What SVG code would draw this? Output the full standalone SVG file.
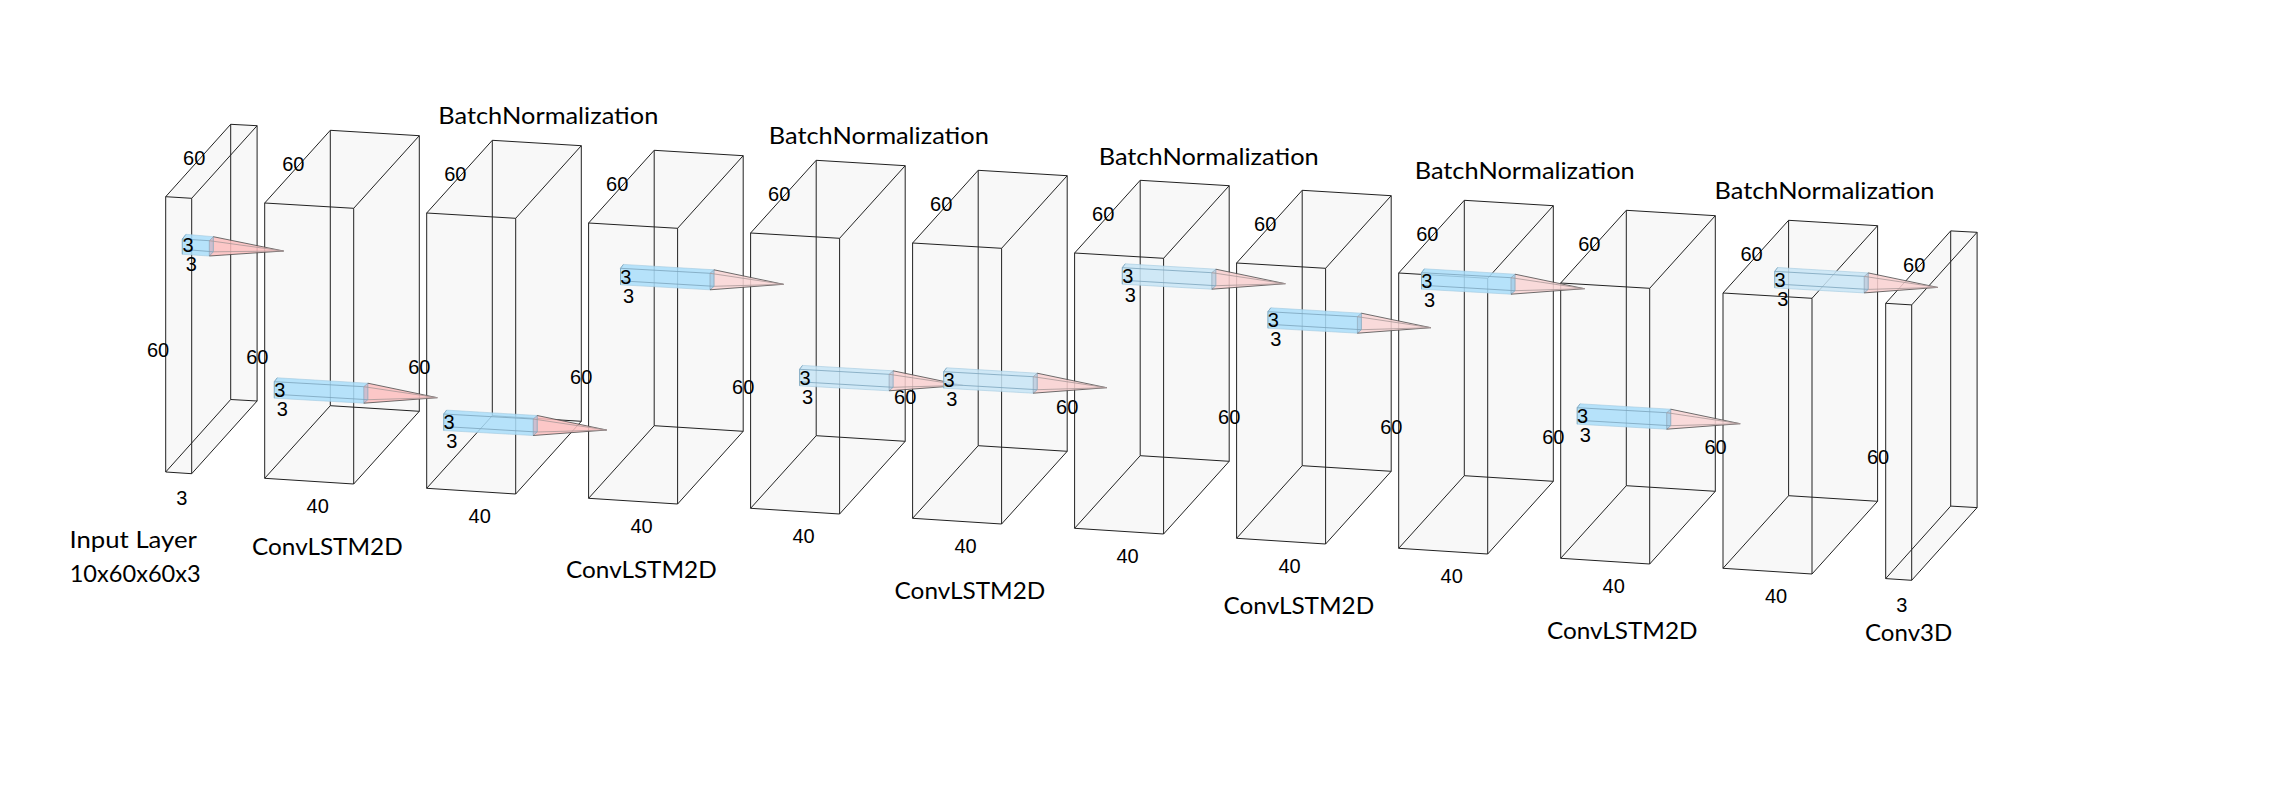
<svg xmlns="http://www.w3.org/2000/svg" xmlns:xlink="http://www.w3.org/1999/xlink" width="2270" height="796" viewBox="0 0 2270 796">
<style>
text{fill:#000}
.d{font-family:"Liberation Sans",Arial,sans-serif;font-size:20px;text-anchor:middle}
.t{font-family:Lato,"Open Sans",sans-serif;font-size:24px}
.fill{fill:#f8f8f8;stroke:none}
.edge{fill:none;stroke:#222;stroke-width:1}
.kb{fill:var(--b);fill-opacity:.85;stroke:#a3c9df;stroke-width:.6}
.kp{fill:var(--p);fill-opacity:.85;stroke:none}
.ks{fill:var(--s);fill-opacity:.85;stroke:#8a9dae;stroke-width:.6}
.kl{fill:none;stroke:#7ba3bb;stroke-width:.8}
.kd{fill:none;stroke:#4a4a4a;stroke-width:.8}
.kg{fill:none;stroke:#a89898;stroke-width:.8}
.bright{--b:#aadefa;--p:#fdbebe;--s:#d0b8c8}
.mid{--b:#aadefa;--p:#f9d5d5;--s:#a8cfe8}
.pale{--b:#c8e5f6;--p:#f9d0d0;--s:#c0cede}
</style>
<defs>
<g id="bigbox">
<polygon class="fill" points="0,0 65.6,-72.7 154.6,-67.3 154.6,208.3 89,281 0,275.3"/>
<path class="edge" d="M0,0L89,5.3L154.6,-67.3L65.6,-72.7ZM0,0V275.3L89,281V5.3M89,281L154.6,208.3V-67.3M0,275.3L65.6,202.7L154.6,208.3M65.6,-72.7V202.7"/>
</g>
<g id="thinbox">
<polygon class="fill" points="0,0 65,-72.4 91.4,-71 91.4,204.3 26,277 0,275.3"/>
<path class="edge" d="M0,0L26,1.6L91.4,-71L65,-72.4ZM0,0V275.3L26,277V1.6M26,277L91.4,204.3V-71M0,275.3L65,202.8L91.4,204.3M65,-72.4V202.8"/>
</g>
<g id="kernel">
<polygon class="kp" points="93.5,1.5 163,16 89.5,21.5 89.5,5"/>
<polygon class="kb" points="0,0 2.9,-3.9 93.5,1.5 93.5,18 89.5,21.5 0,16.5"/>
<polygon class="ks" points="89.5,5 93.5,1.5 93.5,18 89.5,21.5"/>
<path class="kl" d="M0,0L89.5,5M2.9,12.7L93.5,18M0,0V16.5M2.9,-3.9L0,0"/>
<path class="kd" d="M93.5,1.5L163,16M89.5,21.5L163,16"/>
<path class="kg" d="M89.5,5L163,16M93.5,18L163,16"/>
<text class="d" x="5.4" y="15.3">3</text>
<text class="d" x="8" y="34.3">3</text>
</g>
<g id="kernel0">
<polygon class="kp" points="31,-2.3 101.3,12 27,17 27,1.7"/>
<polygon class="kb" points="0,0 3.7,-4.7 31,-2.3 31,12.8 27,17 0,15.3"/>
<polygon class="ks" points="27,1.7 31,-2.3 31,12.8 27,17"/>
<path class="kl" d="M0,0L27,1.7M3.7,10.6L31,12.8M0,0V15.3M3.7,-4.7L0,0"/>
<path class="kd" d="M31,-2.3L101.3,12M27,17L101.3,12"/>
<path class="kg" d="M27,1.7L101.3,12M31,12.8L101.3,12"/>
<text class="d" x="5.7" y="13">3</text>
<text class="d" x="9" y="32.3">3</text>
</g>
<g id="biglabels">
<text class="d" x="-7.4" y="160.7">60</text>
<text class="d" x="28.6" y="-31.7">60</text>
<text class="d" x="53" y="310.3">40</text>
</g>
<g id="thinlabels">
<text class="d" x="-7.6" y="160.7">60</text>
<text class="d" x="28.5" y="-31.7">60</text>
<text class="d" x="16" y="308.3">3</text>
</g>
</defs>
<rect width="2270" height="796" fill="#fff"/>
<g id="input-layer" transform="translate(165.7,196.7)"><use href="#thinbox"/><use href="#thinlabels"/></g>
<g id="convlstm-1" transform="translate(264.7,203)"><use href="#bigbox"/><use href="#biglabels"/></g>
<g id="batchnorm-1" transform="translate(426.7,213)"><use href="#bigbox"/><use href="#biglabels"/></g>
<g id="convlstm-2" transform="translate(588.6,223)"><use href="#bigbox"/><use href="#biglabels"/></g>
<g id="batchnorm-2" transform="translate(750.6,233)"><use href="#bigbox"/><use href="#biglabels"/></g>
<g id="convlstm-3" transform="translate(912.6,243)"><use href="#bigbox"/><use href="#biglabels"/></g>
<g id="batchnorm-3" transform="translate(1074.6,253)"><use href="#bigbox"/><use href="#biglabels"/></g>
<g id="convlstm-4" transform="translate(1236.6,263)"><use href="#bigbox"/><use href="#biglabels"/></g>
<g id="batchnorm-4" transform="translate(1398.7,273)"><use href="#bigbox"/><use href="#biglabels"/></g>
<g id="convlstm-5" transform="translate(1560.7,283)"><use href="#bigbox"/><use href="#biglabels"/></g>
<g id="batchnorm-5" transform="translate(1723,293)"><use href="#bigbox"/><use href="#biglabels"/></g>
<g id="conv3d" transform="translate(1885.7,303.3)"><use href="#thinbox"/><use href="#thinlabels"/></g>
<g id="connectors">
<use href="#kernel0" class="bright" transform="translate(182.3,239)"/>
<use href="#kernel" class="bright" transform="translate(274.3,381.7)"/>
<use href="#kernel" class="bright" transform="translate(443.7,414)"/>
<use href="#kernel" class="mid" transform="translate(620.5,268.3)"/>
<use href="#kernel" class="pale" transform="translate(799.6,369.3)"/>
<use href="#kernel" class="pale" transform="translate(943.7,371.7)"/>
<use href="#kernel" class="pale" transform="translate(1122.3,267.7)"/>
<use href="#kernel" class="mid" transform="translate(1267.9,311.7)"/>
<use href="#kernel" class="mid" transform="translate(1421.5,272.7)"/>
<use href="#kernel" class="mid" transform="translate(1577.2,407.7)"/>
<use href="#kernel" class="pale" transform="translate(1774.7,271.4)"/>
</g>
<g id="labels">
<text class="t" x="69.5" y="548" textLength="127.4" lengthAdjust="spacingAndGlyphs">Input Layer</text>
<text class="t" x="69.7" y="582.3" textLength="131" lengthAdjust="spacingAndGlyphs">10x60x60x3</text>
<text class="t" x="252" y="555" textLength="150.7" lengthAdjust="spacingAndGlyphs">ConvLSTM2D</text>
<text class="t" x="566" y="577.7" textLength="150.7" lengthAdjust="spacingAndGlyphs">ConvLSTM2D</text>
<text class="t" x="894.6" y="599" textLength="150.7" lengthAdjust="spacingAndGlyphs">ConvLSTM2D</text>
<text class="t" x="1223.5" y="614" textLength="150.7" lengthAdjust="spacingAndGlyphs">ConvLSTM2D</text>
<text class="t" x="1546.9" y="639" textLength="150.7" lengthAdjust="spacingAndGlyphs">ConvLSTM2D</text>
<text class="t" x="1865" y="640.7" textLength="87.3" lengthAdjust="spacingAndGlyphs">Conv3D</text>
<text class="t" x="438.3" y="124.3" textLength="220" lengthAdjust="spacingAndGlyphs">BatchNormalization</text>
<text class="t" x="768.8" y="144.3" textLength="220" lengthAdjust="spacingAndGlyphs">BatchNormalization</text>
<text class="t" x="1098.7" y="165.3" textLength="220" lengthAdjust="spacingAndGlyphs">BatchNormalization</text>
<text class="t" x="1414.7" y="179.3" textLength="220" lengthAdjust="spacingAndGlyphs">BatchNormalization</text>
<text class="t" x="1714.5" y="199.3" textLength="220" lengthAdjust="spacingAndGlyphs">BatchNormalization</text>
</g>
</svg>
